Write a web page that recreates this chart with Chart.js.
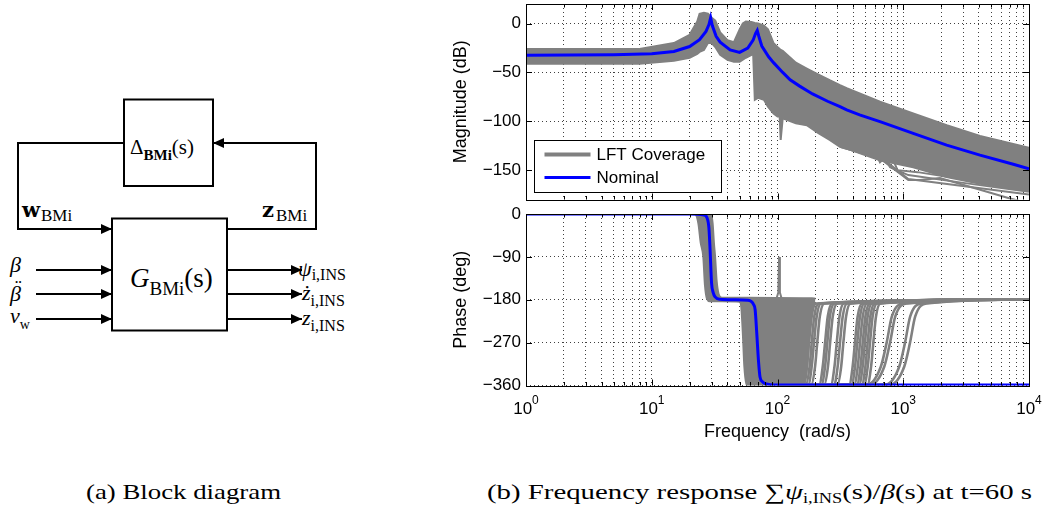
<!DOCTYPE html>
<html>
<head>
<meta charset="utf-8">
<script src="https://cdn.jsdelivr.net/npm/chart.js@4.4.1/dist/chart.umd.min.js"></script>
<style>
  html, body { margin: 0; padding: 0; background: #fff; }
  #page { position: relative; width: 1044px; height: 509px; overflow: hidden; }
  #page svg { position: absolute; left: 0; top: 0; }
  canvas { position: absolute; }
  #magChart { left: 440px; top: 0; }
  #phaseChart { left: 440px; top: 205px; }
</style>
</head>
<body>
<div id="page">
<svg width="1044" height="509" xmlns="http://www.w3.org/2000/svg" font-family="'Liberation Serif', 'DejaVu Serif', serif">
  <defs>
    <marker id="arrow" markerUnits="userSpaceOnUse" markerWidth="11" markerHeight="10" refX="11" refY="5" orient="auto">
      <path d="M0,0 L11,5 L0,10 Z" fill="#000"/>
    </marker>
  </defs>
  <!-- block diagram -->
  <g fill="none" stroke="#000" stroke-width="2">
    <rect x="124" y="99.5" width="89" height="86.5"/>
    <rect x="112" y="218.5" width="115" height="112"/>
    <path d="M124,143 H18 V229 H112" marker-end="url(#arrow)"/>
    <path d="M227,229 H316 V143 H213" marker-end="url(#arrow)"/>
    <path d="M36,270 H112" marker-end="url(#arrow)"/>
    <path d="M36,294 H112" marker-end="url(#arrow)"/>
    <path d="M36,319 H112" marker-end="url(#arrow)"/>
    <path d="M227,270 H302" marker-end="url(#arrow)"/>
    <path d="M227,294 H302" marker-end="url(#arrow)"/>
    <path d="M227,319 H302" marker-end="url(#arrow)"/>
  </g>
  <g fill="#000">
    <text x="130" y="154" font-size="21">Δ<tspan font-size="15" font-weight="bold" dy="6">BMi</tspan><tspan font-size="21" dy="-6">(s)</tspan></text>
    <text x="130" y="287" font-size="27"><tspan font-style="italic">G</tspan><tspan font-size="19" dy="8">BMi</tspan><tspan dy="-8">(s)</tspan></text>
    <text x="22" y="217" font-size="21" font-weight="bold" font-family="'DejaVu Serif', serif">w</text>
    <text x="41" y="221" font-size="17">BMi</text>
    <text x="262" y="217" font-size="21" font-weight="bold" font-family="'DejaVu Serif', serif">z</text>
    <text x="276" y="221" font-size="17">BMi</text>
    <text x="10" y="272" font-size="22" font-style="italic">β</text>
    <text x="10" y="301" font-size="22" font-style="italic">β</text>
    <text x="15" y="294" font-size="20">¨</text>
    <text x="10" y="323" font-size="22" font-style="italic">v<tspan font-size="14" font-style="normal" dy="6">w</tspan></text>
    <text x="298" y="276" font-size="22" font-style="italic">ψ<tspan font-size="16" font-style="normal" dy="4">i,INS</tspan></text>
    <text x="302" y="300" font-size="22" font-style="italic">ż<tspan font-size="16" font-style="normal" dy="6">i,INS</tspan></text>
    <text x="302" y="325" font-size="22" font-style="italic">z<tspan font-size="16" font-style="normal" dy="6">i,INS</tspan></text>
  </g>
  <!-- captions -->
  <g fill="#000" font-size="22">
    <text x="86" y="499" textLength="195" lengthAdjust="spacingAndGlyphs">(a) Block diagram</text>
    <text x="487" y="499" textLength="545" lengthAdjust="spacingAndGlyphs">(b) Frequency response ∑<tspan font-style="italic">ψ</tspan><tspan font-size="14" dy="4">i,INS</tspan><tspan dy="-4">(s)/</tspan><tspan font-style="italic">β</tspan>(s) at t=60 s</text>
  </g>
</svg>
<canvas id="magChart" width="604" height="205"></canvas>
<canvas id="phaseChart" width="604" height="245"></canvas>
</div>
<script>
// ---- data ----
const freqTicks = [1, 10, 100, 1000, 10000];
const freqTickPowers = ['0', '1', '2', '3', '4'];
const magTicks = [-150, -100, -50, 0];
const phaseTicks = [-360, -270, -180, -90, 0];

// nominal magnitude (dB)
const nomMagFreq = [1, 5, 10, 15, 20, 24, 27, 28.5, 29.4, 30.3, 32.5, 35, 42, 50, 58, 64, 67, 69, 71, 75,
  85, 93, 110, 126, 150, 190, 250, 314, 355, 450, 653, 1200, 2215, 4077, 7500, 10000];
const nomMagDb = [-32.5, -32, -31, -28.5, -23.5, -16.5, -8, -1, 6, -2, -13, -19, -27, -29.5, -25, -17, -10, -7, -13, -23,
  -34, -40, -50, -57.5, -64, -72, -79.5, -85, -88.4, -93.5, -100.4, -112.3, -124.4, -134.6, -143.9, -148.5];

// LFT coverage envelope (magnitude)
const magBandFreq = [1, 8, 15, 20, 23, 24, 26, 28, 30, 32, 35, 40, 45, 50, 53, 56, 62, 64, 66, 70,
  78, 84, 93, 100, 104, 106, 110, 140, 171, 210, 260, 314, 355, 653, 1200, 2215, 4077, 10000];
const magBandHi = [-26, -26, -20, -11.5, 2, 10, 11, 10, 6, 3, -9, -17, -19, -6, 0, 2, 1.5, 1, 0.5, 0,
  -2, -6, -20, -24, -26, -27, -28, -40, -46, -52, -58, -63, -66, -80, -92, -104, -115, -127];
const magBandLo = [-41, -41, -38, -35, -31, -29, -27, -20, -20, -24, -32, -37, -39, -39, -37, -35, -32, -30, -78, -76,
  -78, -85, -92, -95, -95, -119, -97, -102, -104, -112, -119, -126, -128, -140, -147, -157, -164, -171];

// stray LFT magnitude traces below the envelope
const magStrayFreqs = [
  [314, 653, 1097, 1359, 1960, 7060, 10000],
  [355, 653, 1097, 10000],
  [300, 355, 427, 480, 560, 653, 785, 1097, 3000, 10000],
  [400, 480, 560, 653, 785, 900, 1300, 10000]
];
const magStrayDb = [
  [-126, -138, -160, -160, -158, -179, -184],
  [-128, -136, -159, -175],
  [-121, -117, -129, -121, -136, -127, -147, -155, -163, -172],
  [-125, -131, -124, -142, -132, -150, -152, -170]
];

// nominal phase (deg)
const nomPhFreq = [1, 20, 26, 27.5, 28.5, 29.1, 29.9, 30.8, 31.9, 34.9, 45, 58, 62.1, 64.5, 66.4, 68.4, 70.5, 72.6, 76, 80, 100, 10000];
const nomPhDeg = [0, 0, -2, -8, -30, -75, -145, -165, -174, -179, -180, -181, -184, -190, -201, -250, -306, -342, -352, -356, -359, -359];

// LFT coverage envelope (phase), dense part
const phBandFreq = [1, 22, 23.5, 24.5, 25.7, 26.5, 27.5, 29, 29.5, 30.5, 31.2, 31.9, 32.8, 34, 36,
  50, 51.5, 53, 54.5, 56.5, 58, 160, 168, 175, 180, 188, 200];
const phBandHi = [0, 0, 0, 0, 0, 0, 0, 0, 0, -20, -60, -90, -140, -168, -176,
  -176, -176, -176, -176, -176, -176, -177, -177, -177, -177, -177, -178];
const phBandLo = [0, 0, -20, -60, -90, -150, -178, -183, -183, -183, -183, -183, -183, -183, -183,
  -184, -195, -250, -320, -356, -360, -360, -345, -300, -250, -205, -185];

// spike near 100 rad/s
const phSpikeFreq = [98, 101.5, 103, 104.5, 108];
const phSpikeDeg = [-178, -165, -90, -165, -178];

// LFT traces returning from -360 to -180
const phReturnDeg = [-360, -358, -320, -270, -215, -188, -179];
const phReturnFreqs = [
  [100, 160, 171, 178, 187, 203, 10000],
  [100, 168, 180, 187, 196, 213, 10000],
  [100, 176, 187, 195, 205, 222, 10000],
  [100, 186, 199, 207, 217, 236, 10000],
  [100, 215, 229, 239, 251, 272, 10000],
  [100, 224, 239, 249, 261, 284, 10000],
  [100, 236, 252, 262, 275, 299, 10000],
  [100, 266, 284, 296, 311, 337, 10000],
  [100, 283, 301, 314, 330, 358, 10000],
  [100, 301, 321, 334, 351, 381, 10000],
  [100, 372, 396, 413, 434, 471, 10000],
  [100, 388, 414, 431, 453, 491, 10000],
  [100, 408, 435, 453, 476, 516, 10000],
  [100, 428, 457, 476, 500, 543, 10000],
  [100, 446, 476, 496, 521, 565, 10000],
  [100, 469, 500, 521, 547, 594, 10000],
  [100, 490, 522, 544, 571, 620, 10000],
  [100, 520, 555, 578, 607, 659, 10000],
  [100, 517, 664, 738, 812, 996, 10000],
  [100, 550, 707, 785, 864, 1060, 10000],
  [100, 723, 930, 1033, 1136, 1395, 10000],
  [100, 792, 1019, 1132, 1245, 1528, 10000]
];

// ---- styling ----
const GRAY = '#808080';
const BLUE = '#0000ff';
const FONT = '"Liberation Sans", Arial, Helvetica, sans-serif';

Chart.defaults.font.family = FONT;
Chart.defaults.font.size = 17;
Chart.defaults.color = '#000';

function lineSet(xs, ys, extra) {
  return Object.assign({
    data: xs.map((x, i) => ({x: x, y: ys[i]})),
    borderColor: GRAY,
    backgroundColor: GRAY,
    borderWidth: 2,
    pointRadius: 0,
    fill: false,
    tension: 0,
    order: 1
  }, extra || {});
}

function logGridTicks(scale) {
  const ticks = [];
  for (let d = 1; d < 10000; d *= 10) {
    for (let m = 1; m < 10; m++) ticks.push({value: m * d, major: m === 1});
  }
  ticks.push({value: 10000, major: true});
  scale.ticks = ticks;
}

const gridStyle = {color: 'rgba(0,0,0,0.75)', lineWidth: 1, drawTicks: false};
const borderStyle = {display: false, dash: [1, 3]};

function xAxis(withTitle) {
  return {
    type: 'logarithmic',
    min: 1,
    max: 10000,
    afterBuildTicks: logGridTicks,
    afterFit: s => { s.height = withTitle ? 64.5 : 5.5; s.paddingLeft = 0; s.paddingRight = 0; },
    ticks: {display: false},
    grid: gridStyle,
    border: borderStyle,
    title: {display: withTitle, text: 'Frequency  (rad/s)', font: {size: 18}, padding: {top: 0, bottom: 7.2}}
  };
}

function yAxis(min, max, values, title) {
  return {
    min: min,
    max: max,
    afterBuildTicks: s => { s.ticks = values.map(v => ({value: v})); },
    afterFit: s => { s.width = 86; s.paddingTop = 0; s.paddingBottom = 0; },
    ticks: {padding: 5, font: {size: 17}, callback: v => String(v).replace('-', '\u2212')},
    grid: gridStyle,
    border: borderStyle,
    title: {display: true, text: title, font: {size: 18}, padding: {top: 9.9, bottom: 0}}
  };
}

// box + inward tick marks, like the original axes
const axesFrame = {
  id: 'axesFrame',
  afterDatasetsDraw(chart) {
    const {ctx, chartArea: a, scales: {x, y}} = chart;
    ctx.save();
    ctx.strokeStyle = '#000';
    ctx.lineWidth = 1;
    ctx.beginPath();
    x.ticks.forEach(t => {
      const px = Math.round(x.getPixelForValue(t.value)) + 0.5;
      const len = t.major ? 6 : 3.5;
      ctx.moveTo(px, a.bottom); ctx.lineTo(px, a.bottom - len);
      ctx.moveTo(px, a.top); ctx.lineTo(px, a.top + len);
    });
    y.ticks.forEach(t => {
      const py = Math.round(y.getPixelForValue(t.value)) + 0.5;
      ctx.moveTo(a.left, py); ctx.lineTo(a.left + 6, py);
      ctx.moveTo(a.right, py); ctx.lineTo(a.right - 6, py);
    });
    ctx.stroke();
    ctx.strokeRect(Math.round(a.left) + 0.5, Math.round(a.top) + 0.5,
      Math.round(a.right - a.left), Math.round(a.bottom - a.top));
    ctx.restore();
  }
};

// boxed legend in the lower left corner of the plot
const boxLegend = {
  id: 'boxLegend',
  afterDraw(chart) {
    const items = chart.data.datasets.filter(d => d.legendRank).sort((p, q) => p.legendRank - q.legendRank);
    if (!items.length) return;
    const {ctx, chartArea: a} = chart;
    const w = 187, h = 52;
    const x0 = Math.round(a.left + 8) + 0.5, y0 = Math.round(a.bottom - 7.5 - h) + 0.5;
    ctx.save();
    ctx.fillStyle = '#fff';
    ctx.fillRect(x0, y0, w, h);
    ctx.strokeStyle = '#000';
    ctx.lineWidth = 1;
    ctx.strokeRect(x0, y0, w, h);
    ctx.font = '17px ' + FONT;
    ctx.textBaseline = 'middle';
    items.forEach((d, i) => {
      const cy = y0 + 14 + i * 23;
      ctx.strokeStyle = d.borderColor;
      ctx.lineWidth = d.legendWidth;
      ctx.beginPath();
      ctx.moveTo(x0 + 10, cy);
      ctx.lineTo(x0 + 56, cy);
      ctx.stroke();
      ctx.fillStyle = '#000';
      ctx.fillText(d.label, x0 + 62, cy + 1);
    });
    ctx.restore();
  }
};

// 10^n labels under the phase plot
const powerLabels = {
  id: 'powerLabels',
  afterDraw(chart) {
    const {ctx, chartArea: a, scales: {x}} = chart;
    ctx.save();
    ctx.fillStyle = '#000';
    ctx.textBaseline = 'alphabetic';
    freqTicks.forEach((v, i) => {
      ctx.font = '17px ' + FONT;
      const wb = ctx.measureText('10').width;
      ctx.font = '12px ' + FONT;
      const we = ctx.measureText(freqTickPowers[i]).width;
      const left = x.getPixelForValue(v) - (wb + we) / 2;
      ctx.font = '17px ' + FONT;
      ctx.fillText('10', left, a.bottom + 28.5);
      ctx.font = '12px ' + FONT;
      ctx.fillText(freqTickPowers[i], left + wb, a.bottom + 18.5);
    });
    ctx.restore();
  }
};

function baseOptions(padding, xCfg, yCfg) {
  return {
    responsive: false,
    animation: false,
    events: [],
    layout: {padding: padding},
    plugins: {legend: {display: false}, tooltip: {enabled: false}},
    scales: {x: xCfg, y: yCfg}
  };
}

const magSets = [
  lineSet(nomMagFreq, nomMagDb, {label: 'Nominal', borderColor: BLUE, backgroundColor: BLUE, borderWidth: 3, order: 0, legendRank: 2, legendWidth: 3}),
  lineSet(magBandFreq, magBandHi, {label: 'LFT Coverage', fill: '+1', legendRank: 1, legendWidth: 4}),
  lineSet(magBandFreq, magBandLo)
].concat(magStrayFreqs.map((f, i) => lineSet(f, magStrayDb[i])));

new Chart(document.getElementById('magChart'), {
  type: 'line',
  data: {datasets: magSets},
  options: baseOptions({top: 4, right: 15, left: 0, bottom: 0}, xAxis(false), yAxis(-180, 20, magTicks, 'Magnitude (dB)')),
  plugins: [axesFrame, boxLegend]
});

const phaseSets = [
  lineSet(nomPhFreq, nomPhDeg, {label: 'Nominal', borderColor: BLUE, backgroundColor: BLUE, borderWidth: 3, order: 0, cubicInterpolationMode: 'monotone'}),
  lineSet(phBandFreq, phBandHi, {label: 'LFT Coverage', fill: '+1', cubicInterpolationMode: 'monotone'}),
  lineSet(phBandFreq, phBandLo, {cubicInterpolationMode: 'monotone'}),
  lineSet(phSpikeFreq, phSpikeDeg)
].concat(phReturnFreqs.map(f => lineSet(f, phReturnDeg, {borderWidth: 2.6, cubicInterpolationMode: 'monotone'})));

new Chart(document.getElementById('phaseChart'), {
  type: 'line',
  data: {datasets: phaseSets},
  options: baseOptions({top: 9, right: 15, left: 0, bottom: 0}, xAxis(true), yAxis(-360, 0, phaseTicks, 'Phase (deg)')),
  plugins: [axesFrame, powerLabels]
});
</script>
</body>
</html>
